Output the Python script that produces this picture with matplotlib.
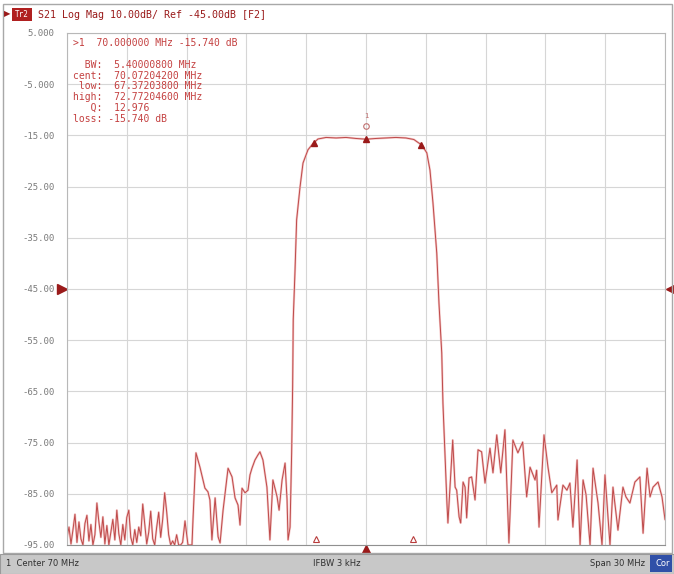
"""
Network analyzer screen: S21 log-mag of a 70 MHz bandpass filter,
span 30 MHz, with the bandwidth marker readout.
Writes out.png (674x574).
"""

import numpy as np
import matplotlib
matplotlib.use("Agg")
import matplotlib.pyplot as plt
from matplotlib.patches import Rectangle

# ---- trace (MHz, dB) --------------------------------------------------------
# low-side noise floor
freq_a = [55.0, 55.1, 55.2, 55.3, 55.4, 55.5, 55.6, 55.7, 55.8, 55.9,
          56.0, 56.1, 56.2, 56.3, 56.4, 56.5, 56.6, 56.7, 56.8, 56.9,
          57.0, 57.1, 57.2, 57.3, 57.4, 57.5, 57.6, 57.7, 57.8, 57.9,
          58.0, 58.1, 58.2, 58.3, 58.4, 58.5, 58.6, 58.7, 58.8, 58.9,
          59.0, 59.1, 59.2, 59.3, 59.4, 59.5, 59.6, 59.7, 59.8, 59.9,
          60.0, 60.1, 60.2, 60.3, 60.4, 60.5, 60.6, 60.7, 60.8]
db_a = [-93.5, -91.5, -94.8, -92.0, -89.0, -94.5, -90.5, -93.8, -95.0, -90.8,
        -89.2, -94.2, -91.0, -95.0, -93.0, -86.8, -90.5, -93.5, -89.5, -94.8,
        -91.2, -95.0, -92.5, -90.0, -94.0, -88.2, -92.8, -95.0, -91.0, -94.0,
        -89.6, -88.2, -93.5, -95.0, -92.0, -94.5, -91.5, -93.2, -87.0, -91.0,
        -94.8, -92.5, -88.4, -93.8, -95.0, -91.5, -88.6, -93.5, -90.0, -84.8,
        -88.5, -93.0, -95.0, -94.2, -95.0, -93.0, -95.0, -95.0, -94.5]

# low-side lobes just below the passband
freq_b = [60.92, 61.07, 61.27, 61.32, 61.47, 61.67, 61.82, 61.92, 62.07, 62.17,
          62.27, 62.43, 62.58, 62.68, 62.83, 63.08, 63.28, 63.43, 63.58, 63.68,
          63.78, 63.93, 64.08, 64.18, 64.28, 64.43, 64.58, 64.68, 64.83, 65.03,
          65.18, 65.33, 65.54, 65.64, 65.79, 65.94, 66.04, 66.09]
db_b = [-90.3, -95.0, -95.0, -90.1, -77.0, -79.8, -82.3, -83.9, -84.6, -86.2,
        -94.0, -85.8, -93.4, -94.6, -88.2, -80.0, -81.7, -85.8, -87.2, -91.1,
        -83.9, -84.8, -84.3, -81.3, -80.0, -78.4, -77.4, -76.8, -78.4, -83.7,
        -94.0, -82.3, -85.6, -88.2, -82.3, -79.0, -86.2, -94.0]

# passband: rising skirt, flat top, falling skirt
freq_p = [66.19, 66.27, 66.32, 66.35, 66.44, 66.52, 66.69, 66.84, 67.09, 67.34,
          67.59, 68.0, 68.5, 69.0, 69.5, 70.0, 70.5, 71.0, 71.5, 72.0,
          72.4, 72.80, 73.05, 73.21, 73.36, 73.55, 73.66, 73.80, 73.86, 73.96,
          74.06, 74.11]
db_p = [-91.5, -77.0, -64.1, -51.0, -41.3, -31.5, -25.1, -20.4, -17.8, -16.6,
        -15.7, -15.4, -15.5, -15.4, -15.6, -15.74, -15.6, -15.5, -15.4, -15.5,
        -15.8, -16.9, -18.4, -21.8, -28.2, -38.0, -47.7, -57.5, -67.3, -77.0,
        -86.8, -90.7]

# high-side noise floor
freq_c = [74.35, 74.47, 74.55, 74.67, 74.75, 74.87, 74.97, 75.05, 75.17, 75.30,
          75.47, 75.62, 75.80, 75.97, 76.22, 76.37, 76.56, 76.76, 76.97, 77.17,
          77.37, 77.62, 77.86, 78.06, 78.23, 78.48, 78.56, 78.68, 78.93, 79.13,
          79.32, 79.57, 79.63, 79.88, 80.08, 80.23, 80.38, 80.59, 80.74, 80.89,
          81.04, 81.24, 81.39, 81.64, 81.84, 81.99, 82.24, 82.39, 82.64, 82.89,
          83.04, 83.24, 83.49, 83.74, 83.90, 84.10, 84.25, 84.40, 84.65, 84.85,
          85.0]
db_c = [-74.5, -83.7, -84.3, -89.5, -90.7, -82.7, -83.7, -89.7, -81.9, -81.7,
        -86.2, -76.4, -76.8, -82.9, -76.1, -80.9, -73.5, -80.9, -72.5, -94.6,
        -74.5, -77.0, -74.9, -85.6, -79.8, -82.3, -80.4, -91.5, -73.5, -79.8,
        -84.8, -83.3, -90.1, -83.3, -84.3, -82.9, -91.5, -78.4, -95.0, -82.3,
        -85.2, -95.0, -80.0, -86.8, -95.0, -81.3, -95.0, -83.7, -92.1, -83.7,
        -85.6, -86.8, -82.7, -81.7, -92.7, -80.0, -85.6, -83.7, -82.7, -85.6,
        -90.0]

# marker readout
mk_freq, mk_db = 70.0, -15.74
bw_low, bw_high = 67.372038, 72.772046
open_marks = [67.49, 72.36]
readout = [">1  70.000000 MHz -15.740 dB",
           "",
           "  BW:  5.40000800 MHz",
           "cent:  70.07204200 MHz",
           " low:  67.37203800 MHz",
           "high:  72.77204600 MHz",
           "   Q:  12.976",
           "loss: -15.740 dB"]
yticks = [5, -5, -15, -25, -35, -45, -55, -65, -75, -85, -95]
ytick_labels = ["5.000", "-5.000", "-15.00", "-25.00", "-35.00", "-45.00",
                "-55.00", "-65.00", "-75.00", "-85.00", "-95.00"]
xticks = [55, 58, 61, 64, 67, 70, 73, 76, 79, 82, 85]

freq = np.array(freq_a + freq_b + freq_p + freq_c)
db = np.array(db_a + db_b + db_p + db_c)

TRACE = "#b83c3c"
DARK = "#9a1a1a"
W, H = 674, 574


def px(x, y):
    """screen pixel (from top-left) -> figure fraction"""
    return x / W, 1 - y / H


fig = plt.figure(figsize=(W / 100, H / 100), dpi=100)
fig.patch.set_facecolor("white")

# outer frame + bottom status bar
fig.patches.append(Rectangle(px(3, 553), 669 / W, 549 / H, transform=fig.transFigure,
                             fill=False, edgecolor="#a8a8a8", lw=1.0))
fig.patches.append(Rectangle(px(0, 574), 1, 20 / H, transform=fig.transFigure,
                             facecolor="#c8c8c8", edgecolor="#9a9a9a", lw=0.8))
fig.patches.append(Rectangle(px(650, 572), 22 / W, 17 / H, transform=fig.transFigure,
                             facecolor="#3050a8", edgecolor="none"))
fig.text(*px(655, 563), "Cor", color="white", fontsize=6, va="center")
fig.text(*px(6, 563), "1  Center 70 MHz", color="#303030", fontsize=6, va="center")
fig.text(*px(337, 563), "IFBW 3 kHz", color="#303030", fontsize=6, va="center", ha="center")
fig.text(*px(645, 563), "Span 30 MHz", color="#303030", fontsize=6, va="center", ha="right")

# header
fig.text(*px(4, 14), "\u25B6", color=DARK, fontsize=6, va="center")
fig.patches.append(Rectangle(px(12, 21), 20 / W, 13 / H, transform=fig.transFigure,
                             facecolor="#b02020", edgecolor="none"))
fig.text(*px(22, 14.5), "Tr2", color="white", fontsize=5.5, va="center", ha="center",
         family="DejaVu Sans Mono")
fig.text(*px(38, 14.5), "S21 Log Mag 10.00dB/ Ref -45.00dB [F2]", color=DARK,
         fontsize=7.2, va="center", family="DejaVu Sans Mono")

# ---- plot area ---------------------------------------------------------------
x0, y0 = px(67, 545)
x1, y1 = px(665, 33)
ax = fig.add_axes([x0, y0, x1 - x0, y1 - y0])
ax.set_xlim(55, 85)
ax.set_ylim(-95, 5)
ax.set_xticks(xticks)
ax.set_yticks(yticks)
ax.set_yticklabels(ytick_labels, family="DejaVu Sans Mono", fontsize=6.5, color="#7a7a7a")
ax.tick_params(axis="x", length=0, labelbottom=False)
ax.tick_params(axis="y", length=0, pad=9)
ax.grid(True, color="#d6d6d6", lw=0.8)
ax.set_axisbelow(True)
for s in ax.spines.values():
    s.set_color("#b8b8b8")
    s.set_linewidth(0.8)
ax.spines["bottom"].set_color("#909090")

# trace: faint pink halo under a thin red line, like the screen blur
ax.plot(freq, db, color="#f4c6c6", lw=1.6, solid_joinstyle="round")
ax.plot(freq, db, color=TRACE, lw=0.7, alpha=0.9)

# bandwidth markers on the trace
bw_db = np.interp([bw_low, bw_high], freq, db)
ax.plot([bw_low, bw_high], bw_db, ls="none", marker="^", ms=4.5, color=DARK)
ax.plot([mk_freq], [mk_db], ls="none", marker="^", ms=4.5, color=DARK)
ax.plot([mk_freq], [mk_db + 2.5], ls="none", marker="o", ms=4, mfc="none",
        mec="#c07070", mew=0.8)
ax.text(mk_freq, mk_db + 4.6, "1", color="#c07070", fontsize=5, ha="center", va="center")

# stimulus markers along the bottom
ax.plot(open_marks, [-93.8, -93.8], ls="none", marker="^", ms=4.5, mfc="white",
        mec=TRACE, mew=0.8)
ax.plot([mk_freq], [-96.1], ls="none", marker="^", ms=8, color=DARK, clip_on=False)

# reference level arrows at -45 dB
ax.plot([54.75], [-45], ls="none", marker=">", ms=7, color=DARK, clip_on=False)
ax.plot([85.3], [-45], ls="none", marker="<", ms=7, color=DARK, clip_on=False)

# marker readout block
ax.text(55.3, 4.0, "\n".join(readout), color="#c44040", fontsize=7,
        family="DejaVu Sans Mono", va="top", ha="left", linespacing=1.1)

fig.savefig("out.png", dpi=100)
